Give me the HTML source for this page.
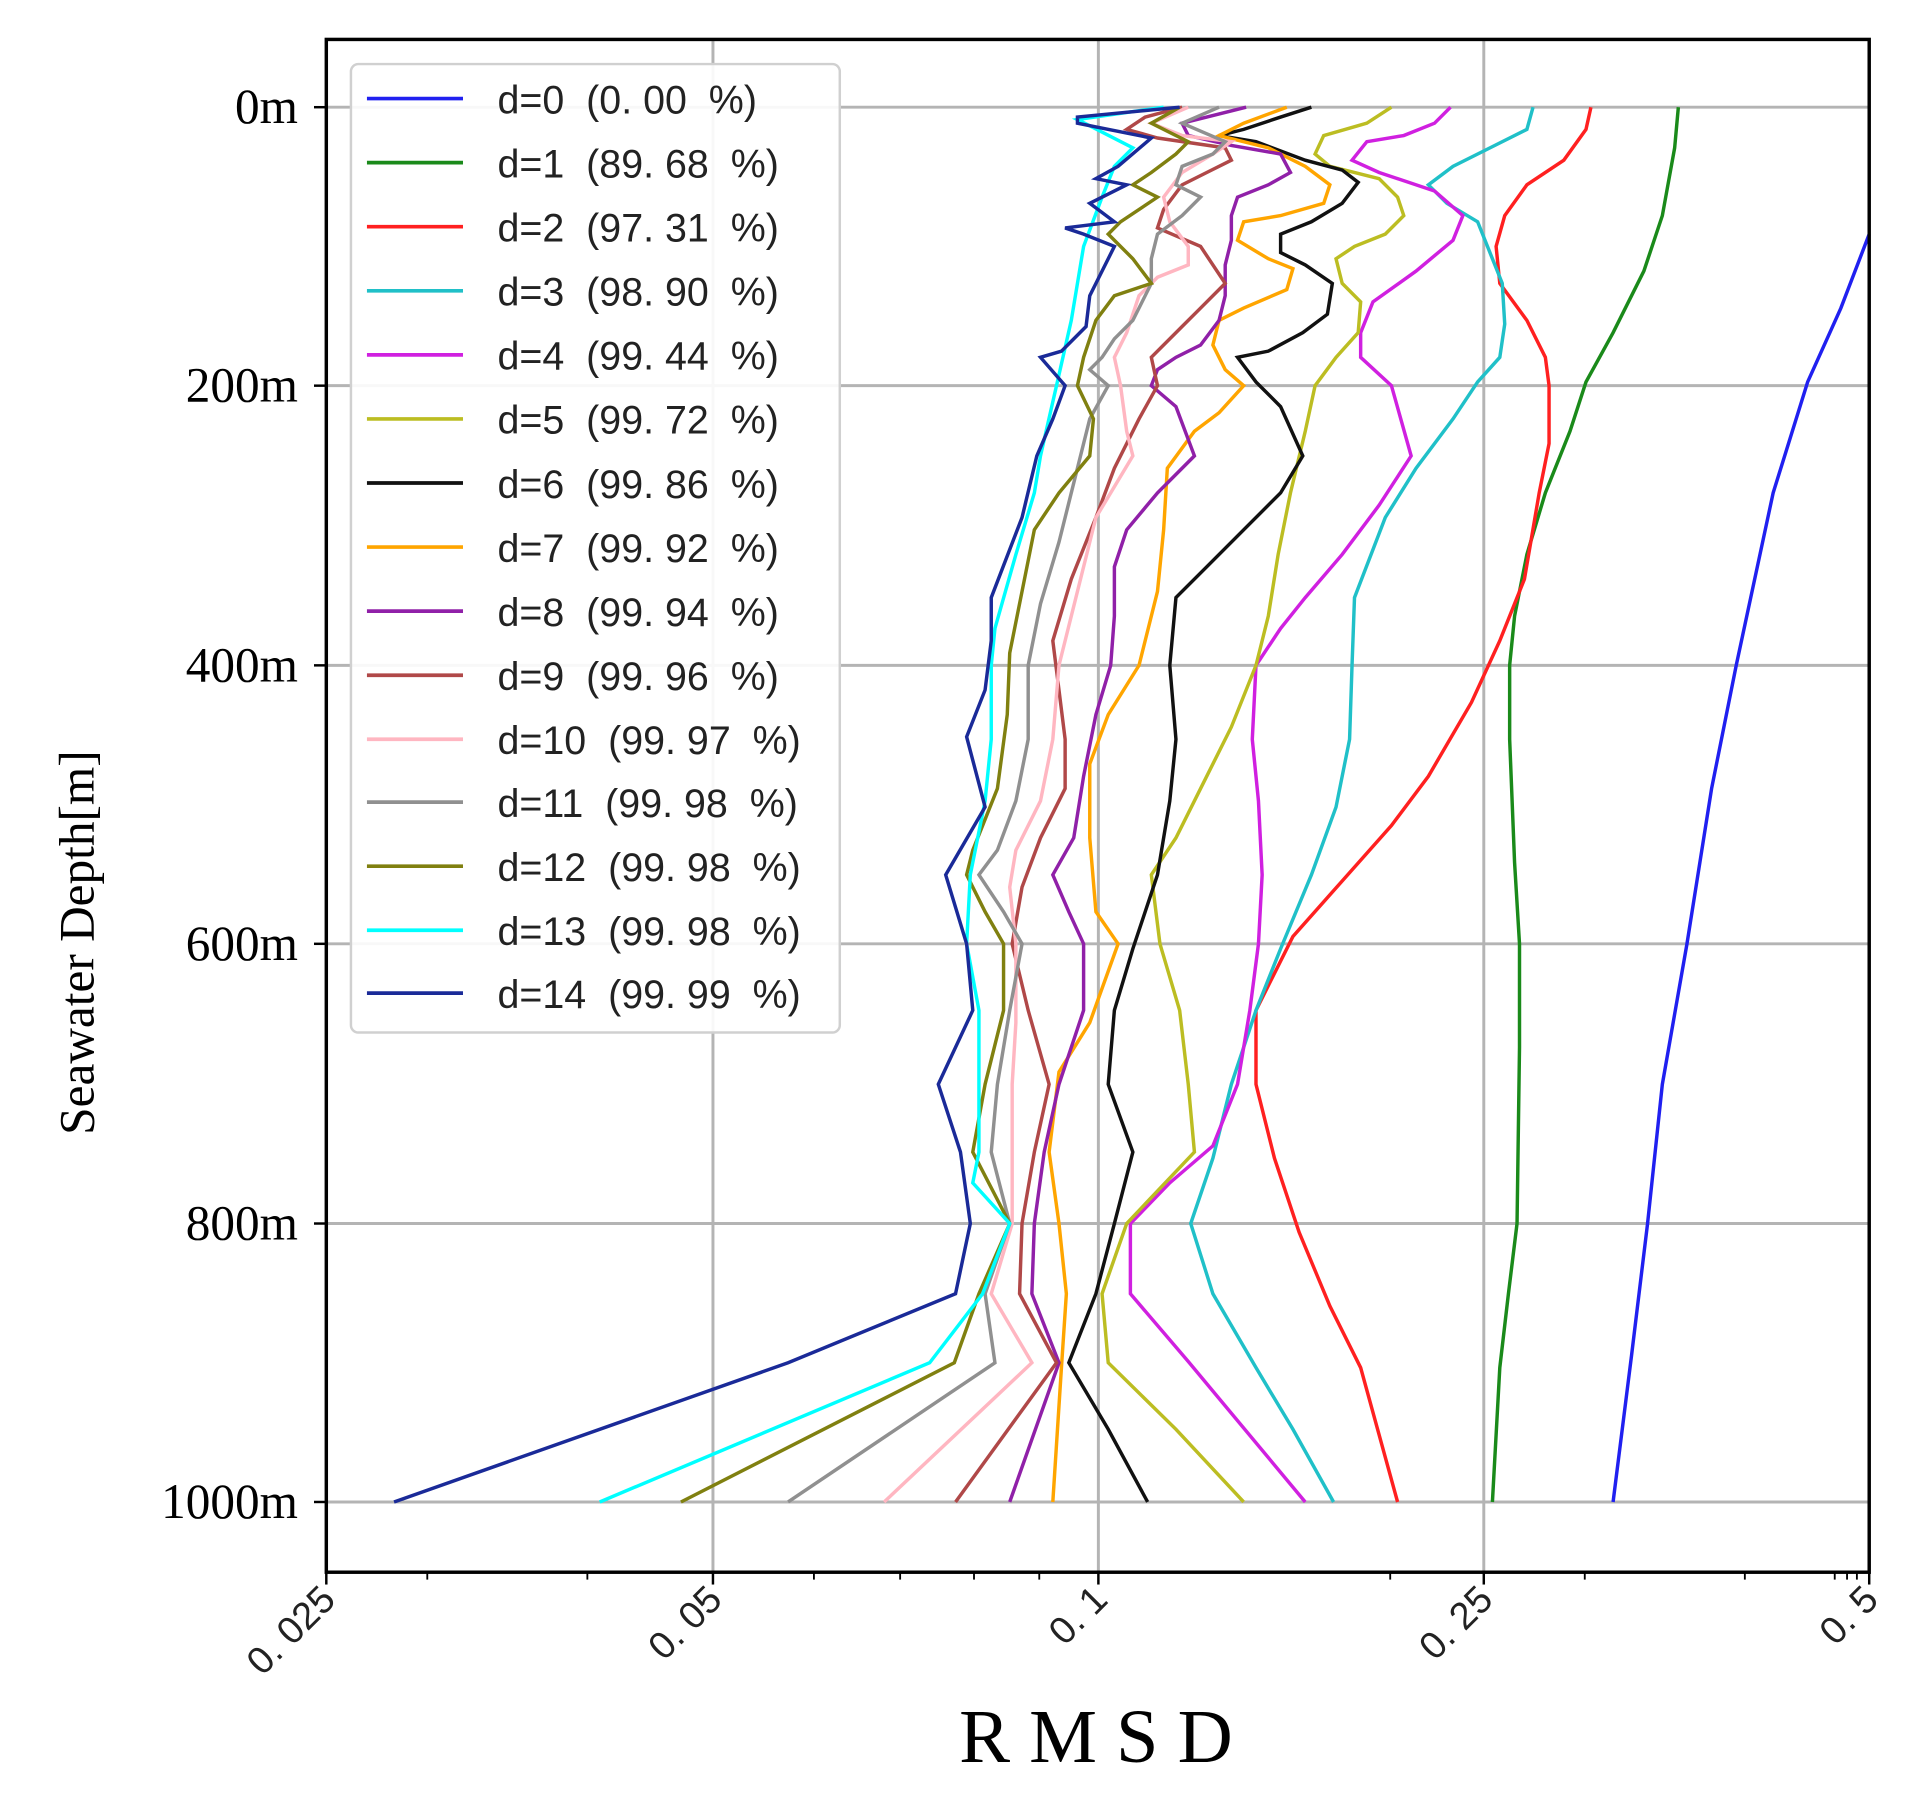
<!DOCTYPE html>
<html><head><meta charset="utf-8"><style>
html,body{margin:0;padding:0;background:#fff;}
svg{display:block;}
.leg{font-family:"Liberation Sans","Noto Sans CJK SC",sans-serif;font-size:32px;fill:#222;}
.tm{font-family:"Liberation Serif",serif;fill:#000;}
.xt{font-family:"Liberation Sans","Noto Sans CJK SC",sans-serif;font-size:31px;fill:#222;}
</style></head><body>
<svg width="1916" height="1794" viewBox="0 0 1556 1456" preserveAspectRatio="none" xmlns="http://www.w3.org/2000/svg">
<rect width="1556" height="1456" fill="#fff"/>
<g stroke="#b4b4b4" stroke-width="2.4">
<line x1="265" y1="87" x2="1518" y2="87"/><line x1="265" y1="313" x2="1518" y2="313"/>
<line x1="265" y1="540" x2="1518" y2="540"/><line x1="265" y1="766" x2="1518" y2="766"/>
<line x1="265" y1="993" x2="1518" y2="993"/><line x1="265" y1="1219" x2="1518" y2="1219"/>
<line x1="579" y1="32" x2="579" y2="1276"/><line x1="892" y1="32" x2="892" y2="1276"/><line x1="1205" y1="32" x2="1205" y2="1276"/>
</g>
<g fill="none" stroke-width="2.8" stroke-linejoin="miter">
<polyline stroke="#2020f0" points="1518,190 1495,250 1468,310 1440,400 1410,540 1390,640 1370,766 1350,880 1338,993 1325,1100 1310,1219"/>
<polyline stroke="#1a8a1a" points="1363,87 1360,120 1350,175 1335,220 1310,270 1288,310 1275,350 1255,400 1240,450 1230,500 1226,540 1226,600 1230,700 1234,766 1234,850 1232,993 1225,1050 1218,1110 1212,1219"/>
<polyline stroke="#ff2020" points="1292,87 1288,105 1270,130 1240,150 1222,175 1215,200 1218,230 1240,260 1255,290 1258,313 1258,360 1250,400 1238,470 1218,520 1195,570 1160,630 1130,670 1090,715 1050,760 1020,820 1020,880 1035,940 1055,1000 1080,1060 1105,1110 1135,1219"/>
<polyline stroke="#20c0c8" points="1245,87 1240,105 1210,120 1180,135 1160,150 1175,165 1200,180 1220,230 1222,263 1218,290 1200,310 1180,340 1150,380 1125,420 1100,485 1098,540 1096,600 1085,655 1065,710 1040,770 1020,820 1000,880 985,940 967,993 985,1050 1020,1110 1050,1160 1083,1219"/>
<polyline stroke="#d020e0" points="1178,87 1165,100 1140,110 1110,115 1098,130 1120,140 1165,155 1188,175 1180,195 1150,220 1115,245 1105,270 1105,290 1130,313 1146,370 1120,410 1090,450 1060,485 1040,510 1020,540 1017,600 1022,650 1025,710 1022,766 1015,820 1005,880 985,930 950,960 918,993 918,1050 965,1105 1060,1219"/>
<polyline stroke="#bcbd22" points="1130,87 1110,100 1075,110 1068,125 1080,135 1120,145 1135,160 1140,175 1125,190 1100,200 1085,210 1090,230 1105,245 1103,270 1085,290 1068,313 1060,350 1048,400 1038,450 1030,500 1020,540 1000,590 975,640 955,680 935,710 942,766 958,820 965,880 970,935 915,993 895,1050 900,1106 955,1160 1010,1219"/>
<polyline stroke="#111" points="1065,87 1040,95 1010,105 990,110 1020,115 1060,130 1090,138 1103,148 1090,165 1065,180 1040,190 1040,205 1060,215 1082,230 1078,255 1058,270 1030,285 1005,290 1020,310 1040,330 1058,370 1040,400 1010,430 980,460 955,485 950,540 955,600 950,650 940,710 920,770 905,820 900,880 920,935 905,993 890,1050 868,1106 900,1160 932,1219"/>
<polyline stroke="#ffa500" points="1045,87 1010,100 990,110 1030,120 1060,135 1080,150 1075,165 1040,175 1010,180 1005,195 1030,210 1050,218 1045,235 1010,250 990,260 985,280 995,300 1010,313 990,335 970,350 948,380 945,430 940,480 925,540 900,580 885,620 885,680 890,740 908,766 885,830 860,870 852,935 860,993 866,1050 862,1110 855,1219"/>
<polyline stroke="#9020a8" points="1012,87 980,95 960,100 965,110 1000,118 1040,125 1048,140 1030,150 1005,160 1000,175 1000,195 995,215 995,240 990,260 975,280 955,290 940,300 935,313 955,330 970,370 940,400 915,430 905,460 905,500 902,540 890,580 880,630 872,680 855,710 868,740 880,766 880,820 860,880 848,935 840,993 838,1050 860,1106 820,1219"/>
<polyline stroke="#b04848" points="960,87 930,95 915,105 940,112 995,120 1000,130 980,140 960,150 945,170 940,185 975,200 995,230 975,250 960,265 935,290 940,313 925,340 905,380 890,420 870,470 855,520 865,600 865,640 845,680 830,720 822,766 835,820 852,880 840,935 830,993 828,1050 858,1106 776,1219"/>
<polyline stroke="#ffb6c1" points="965,87 935,100 960,110 1000,115 985,125 960,140 945,160 950,180 965,200 965,215 940,225 925,240 915,270 905,290 910,313 915,350 920,370 890,420 875,480 860,540 855,600 845,650 825,690 820,720 825,766 825,830 822,880 822,935 822,993 805,1050 838,1106 718,1219"/>
<polyline stroke="#909090" points="990,87 960,100 995,115 985,125 960,135 955,150 975,160 960,175 940,190 935,210 935,230 920,260 905,275 895,290 885,300 900,313 885,340 875,380 860,440 845,490 835,540 835,600 825,650 810,690 795,710 815,740 830,766 820,820 810,880 805,935 820,993 800,1050 808,1106 640,1219"/>
<polyline stroke="#808010" points="958,87 935,100 965,115 955,125 935,140 920,150 940,160 910,180 900,190 920,210 935,230 905,240 890,260 880,290 875,313 888,340 885,370 860,400 840,430 830,480 820,530 818,580 810,640 790,690 785,710 800,740 815,766 815,820 800,880 790,935 820,993 795,1050 775,1106 553,1219"/>
<polyline stroke="#00ffff" points="945,87 875,97 920,120 905,135 895,160 880,200 870,260 858,313 845,370 840,400 825,450 808,510 805,540 805,600 800,650 788,710 785,766 795,820 795,880 795,935 790,960 820,993 798,1050 755,1106 487,1219"/>
<polyline stroke="#1a2a98" points="958,87 875,95 875,100 935,112 908,135 890,145 915,150 885,165 905,180 865,185 880,190 905,200 900,210 885,240 882,265 862,285 845,290 865,313 855,340 842,370 830,420 805,485 805,520 800,560 785,598 800,655 768,710 785,766 790,820 762,880 780,935 788,993 776,1050 640,1106 320,1219"/>
</g>
<rect x="265" y="32" width="1253" height="1244" fill="none" stroke="#000" stroke-width="2.8"/>
<g stroke="#000" stroke-width="2">
<line x1="265" y1="1276" x2="265" y2="1286"/><line x1="579" y1="1276" x2="579" y2="1286"/><line x1="892" y1="1276" x2="892" y2="1286"/><line x1="1205" y1="1276" x2="1205" y2="1286"/><line x1="1518" y1="1276" x2="1518" y2="1286"/>
<line x1="255" y1="87" x2="265" y2="87"/><line x1="255" y1="313" x2="265" y2="313"/><line x1="255" y1="540" x2="265" y2="540"/><line x1="255" y1="766" x2="265" y2="766"/><line x1="255" y1="993" x2="265" y2="993"/><line x1="255" y1="1219" x2="265" y2="1219"/>
</g>
<g stroke="#000" stroke-width="1.5">
<line x1="347" y1="1276" x2="347" y2="1282"/><line x1="477" y1="1276" x2="477" y2="1282"/>
<line x1="661" y1="1276" x2="661" y2="1282"/><line x1="731" y1="1276" x2="731" y2="1282"/><line x1="791" y1="1276" x2="791" y2="1282"/><line x1="844" y1="1276" x2="844" y2="1282"/>
<line x1="1129" y1="1276" x2="1129" y2="1282"/><line x1="1287" y1="1276" x2="1287" y2="1282"/><line x1="1417" y1="1276" x2="1417" y2="1282"/>
<line x1="1490" y1="1276" x2="1490" y2="1282"/><line x1="1500" y1="1276" x2="1500" y2="1282"/><line x1="1508" y1="1276" x2="1508" y2="1282"/>
</g>
<g class="tm" font-size="40" text-anchor="end">
<text x="242" y="100">0m</text><text x="242" y="326">200m</text><text x="242" y="553">400m</text><text x="242" y="779">600m</text><text x="242" y="1006">800m</text><text x="242" y="1232">1000m</text>
</g>
<text class="tm" font-size="40" transform="translate(76,765) rotate(-90)" text-anchor="middle">Seawater Depth[m]</text>
<g class="xt" text-anchor="end">
<text transform="translate(274,1300) rotate(-45)">0.&#160;025</text>
<text transform="translate(588,1300) rotate(-45)">0.&#160;05</text>
<text transform="translate(901,1300) rotate(-45)">0.&#160;1</text>
<text transform="translate(1214,1300) rotate(-45)">0.&#160;25</text>
<text transform="translate(1527,1300) rotate(-45)">0.&#160;5</text>
</g>
<text class="tm" font-size="62" x="890" y="1430" text-anchor="middle">R M S D</text>
<rect x="285" y="52" width="397" height="786" rx="6" fill="#fff" fill-opacity="0.9" stroke="#d0d0d0" stroke-width="2"/>
<g stroke-width="3">
<line x1="298" y1="80" x2="376" y2="80" stroke="#2020f0"/>
<line x1="298" y1="132" x2="376" y2="132" stroke="#1a8a1a"/>
<line x1="298" y1="184" x2="376" y2="184" stroke="#ff2020"/>
<line x1="298" y1="236" x2="376" y2="236" stroke="#20c0c8"/>
<line x1="298" y1="288" x2="376" y2="288" stroke="#d020e0"/>
<line x1="298" y1="340" x2="376" y2="340" stroke="#bcbd22"/>
<line x1="298" y1="392" x2="376" y2="392" stroke="#111"/>
<line x1="298" y1="444" x2="376" y2="444" stroke="#ffa500"/>
<line x1="298" y1="496" x2="376" y2="496" stroke="#9020a8"/>
<line x1="298" y1="548" x2="376" y2="548" stroke="#b04848"/>
<line x1="298" y1="600" x2="376" y2="600" stroke="#ffb6c1"/>
<line x1="298" y1="651" x2="376" y2="651" stroke="#909090"/>
<line x1="298" y1="703" x2="376" y2="703" stroke="#808010"/>
<line x1="298" y1="755" x2="376" y2="755" stroke="#00ffff"/>
<line x1="298" y1="806" x2="376" y2="806" stroke="#1a2a98"/>
</g>
<g class="leg">
<text x="404" y="92">d=0&#160;&#160;(0.&#160;00&#160;&#160;%)</text>
<text x="404" y="144">d=1&#160;&#160;(89.&#160;68&#160;&#160;%)</text>
<text x="404" y="196">d=2&#160;&#160;(97.&#160;31&#160;&#160;%)</text>
<text x="404" y="248">d=3&#160;&#160;(98.&#160;90&#160;&#160;%)</text>
<text x="404" y="300">d=4&#160;&#160;(99.&#160;44&#160;&#160;%)</text>
<text x="404" y="352">d=5&#160;&#160;(99.&#160;72&#160;&#160;%)</text>
<text x="404" y="404">d=6&#160;&#160;(99.&#160;86&#160;&#160;%)</text>
<text x="404" y="456">d=7&#160;&#160;(99.&#160;92&#160;&#160;%)</text>
<text x="404" y="508">d=8&#160;&#160;(99.&#160;94&#160;&#160;%)</text>
<text x="404" y="560">d=9&#160;&#160;(99.&#160;96&#160;&#160;%)</text>
<text x="404" y="612">d=10&#160;&#160;(99.&#160;97&#160;&#160;%)</text>
<text x="404" y="663">d=11&#160;&#160;(99.&#160;98&#160;&#160;%)</text>
<text x="404" y="715">d=12&#160;&#160;(99.&#160;98&#160;&#160;%)</text>
<text x="404" y="767">d=13&#160;&#160;(99.&#160;98&#160;&#160;%)</text>
<text x="404" y="818">d=14&#160;&#160;(99.&#160;99&#160;&#160;%)</text>
</g>
</svg>
</body></html>
